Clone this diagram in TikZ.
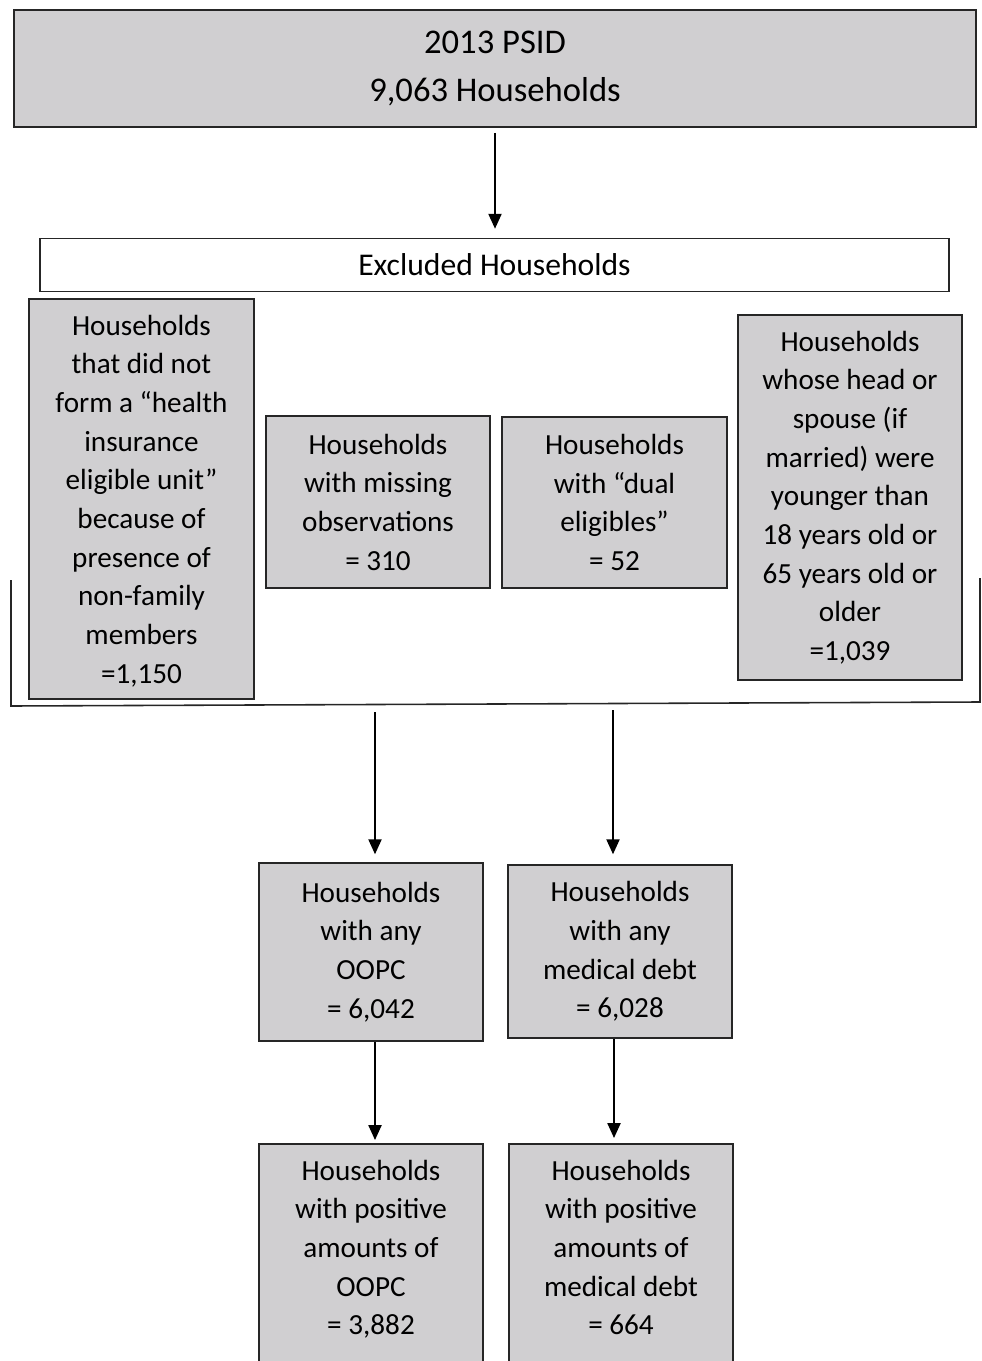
\documentclass[tikz,border=0pt]{standalone}
\usepackage{fontspec}
\setmainfont{Carlito}
\usetikzlibrary{arrows.meta}
\definecolor{kasten}{RGB}{208,207,209}
\tikzset{
  box/.style={draw=black!85, line width=0.9pt, fill=kasten, align=center, inner sep=0pt,
    font=\fontsize{16.6}{22}\selectfont},
  pfeil/.style={-{Triangle[width=7.5pt,length=8.5pt]}, line width=0.9pt},
}

\begin{document}
\begin{tikzpicture}[x=0.02cm, y=-0.02cm]
    \useasboundingbox (0,0) rectangle (982,1361);
    \clip (0,0) rectangle (982,1361);

    % Ausgangsdaten
    \node[box, minimum width=19.24cm, minimum height=2.34cm, font=\fontsize{19.7}{27.2}\selectfont]
        (psid) at (495,68.5) {2013 PSID\\9,063 Households};

    % Ausgeschlossene Haushalte
    \node[box, fill=white, minimum width=18.18cm, minimum height=1.06cm, font=\fontsize{18}{22}\selectfont]
        (excl) at (494.5,265) {Excluded Households};

    \node[box, minimum width=4.5cm, minimum height=8cm, text depth=0pt] (nofam) at (141.5,499)
        {Households\\that did not\\form a “health\\insurance\\eligible unit”\\because of\\presence of\\non-family\\members\\=1,150};
    \node[box, minimum width=4.48cm, minimum height=3.44cm] (miss) at (378,502)
        {Households\\with missing\\observations\\= 310};
    \node[box, minimum width=4.5cm, minimum height=3.42cm] (dual) at (614.5,502.5)
        {Households\\with “dual\\eligibles”\\= 52};
    \node[box, minimum width=4.48cm, minimum height=7.3cm] (age) at (850,497.5)
        {Households\\whose head or\\spouse (if\\married) were\\younger than\\18 years old or\\65 years old or\\older\\=1,039};

    % Klammer
    \draw[line width=0.9pt, black!85] (11,580) -- (11,706) -- (980,702) -- (980,578);
    \coordinate (k1) at (375,712);
    \coordinate (k2) at (613,710);

    % Stichproben
    \node[box, minimum width=4.48cm, minimum height=3.56cm] (oopc) at (371,952)
        {Households\\with any\\OOPC\\= 6,042};
    \node[box, minimum width=4.48cm, minimum height=3.46cm] (debt) at (620,951.5)
        {Households\\with any\\medical debt\\= 6,028};

    % unten abgeschnitten
    \node[box, anchor=north, minimum width=4.48cm, minimum height=4.5cm, text depth=10pt] (oopcpos) at (371,1143)
        {Households\\with positive\\amounts of\\OOPC\\= 3,882};
    \node[box, anchor=north, minimum width=4.48cm, minimum height=4.5cm, text depth=10pt] (debtpos) at (621,1143)
        {Households\\with positive\\amounts of\\medical debt\\= 664};

    % Pfeile
    \draw[pfeil, shorten <=0.1cm, shorten >=0.18cm] (psid.south) -- (excl.north -| psid.south);
    \draw[pfeil, shorten >=0.16cm] (k1) -- (oopc.north -| k1);
    \draw[pfeil, shorten >=0.2cm] (k2) -- (debt.north -| k2);
    \draw[pfeil, shorten >=0.06cm] (oopc.south -| k1) -- (oopcpos.north -| k1);
    \draw[pfeil, shorten >=0.1cm] (debt.south -| 614,0) -- (debtpos.north -| 614,0);

\end{tikzpicture}
\end{document}
